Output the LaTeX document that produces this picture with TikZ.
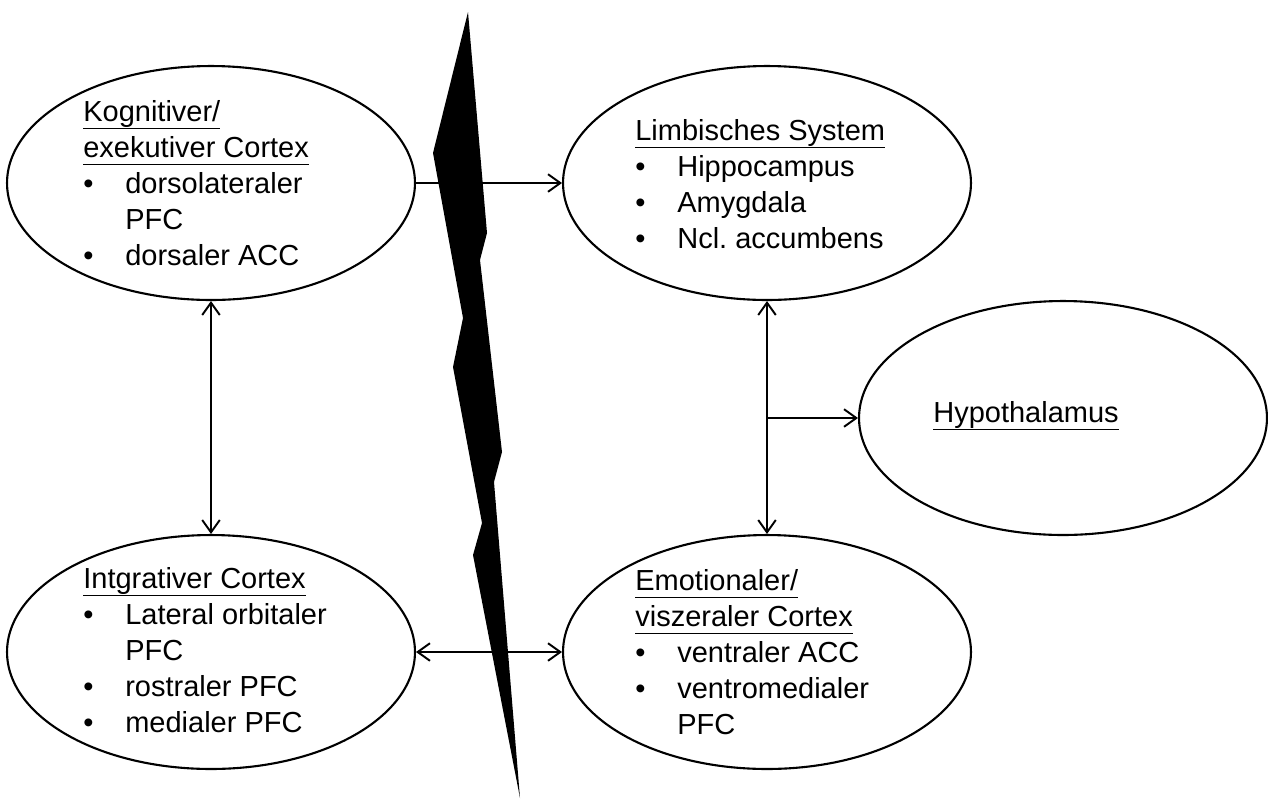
\documentclass[tikz,border=0pt]{standalone}
\usepackage{fontspec}
\setmainfont{Liberation Sans}
\usetikzlibrary{shapes.geometric,arrows.meta}
\newcommand{\ulhead}[1]{\underline{\smash{#1}\rule[-0.16em]{0pt}{0.75em}}}
\newcommand{\bul}[1]{\makebox[0.84cm][l]{\textbullet}#1}
\newcommand{\cont}[1]{\hspace*{0.84cm}#1}
\begin{document}
\begin{tikzpicture}[x=0.02cm, y=-0.02cm, >={Straight Barb[length=7pt,width=10pt]},
every node/.style={font=\fontsize{16.5}{20.4}\selectfont},
region/.style={ellipse, draw, line width=1.2pt, minimum width=8.16cm, minimum height=4.68cm, inner sep=0pt},
txt/.style={align=left, anchor=west, inner sep=0pt},
arr/.style={->, line width=1.1pt},
dbl/.style={arr, <->}]
\useasboundingbox (0,0) rectangle (1268,799);
% regions
\node[region] (kog) at (211,183) {};
\node[region] (limb) at (767,183) {};
\node[region] (integ) at (211,652) {};
\node[region] (emo) at (767,652) {};
\node[region] (hypo) at (1063,418) {};
\node[txt] (kogtxt) at (83,185) {\ulhead{Kognitiver/}\\ \ulhead{exekutiver Cortex}\\ \bul{dorsolateraler}\\ \cont{PFC}\\ \bul{dorsaler ACC}};
\node[txt] (limbtxt) at (635,186) {\ulhead{Limbisches System}\\ \bul{Hippocampus}\\ \bul{Amygdala}\\ \bul{Ncl.\ accumbens}};
\node[txt] (integtxt) at (83,652) {\ulhead{Intgrativer Cortex}\\ \bul{Lateral orbitaler}\\ \cont{PFC}\\ \bul{rostraler PFC}\\ \bul{medialer PFC}};
\node[txt] (emotxt) at (635,654) {\ulhead{Emotionaler/}\\ \ulhead{viszeraler Cortex}\\ \bul{ventraler ACC}\\ \bul{ventromedialer}\\ \cont{PFC}};
\node[txt] (hypotxt) at (933,418) {\ulhead{Hypothalamus}};
% connections
\draw[arr] (kog.east) -- (limb.west);
\draw[dbl] (kog.south) -- (integ.north);
\draw[dbl] (limb.south) -- (emo.north);
\draw[dbl] (integ.east) -- (emo.west);
\coordinate (fork) at (767,418);
\draw[arr] (fork) -- (hypo.west);
% lightning
\fill (468,12) -- (487,233) -- (480,260) -- (502,452) -- (494,482) -- (520,798) -- (473,555) -- (482,523) -- (453,367) -- (463,318) -- (433,153) -- cycle;
\end{tikzpicture}
\end{document}
